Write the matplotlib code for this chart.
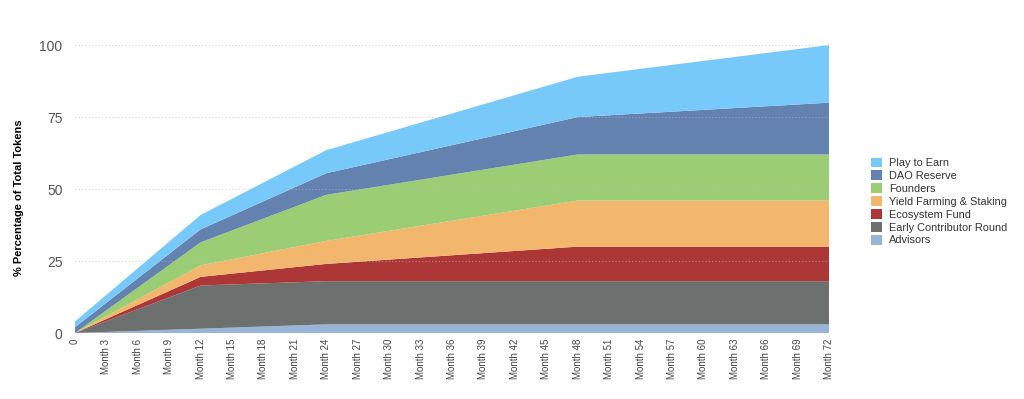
import matplotlib.pyplot as plt
from matplotlib.patches import Patch

plt.rcParams["font.family"] = ["Liberation Sans", "DejaVu Sans"]

# meses donde cambia la pendiente del vesting
meses = [0, 12, 24, 48, 72]

series = ["Advisors", "Early Contributor Round", "Ecosystem Fund",
          "Yield Farming & Staking", "Founders", "DAO Reserve", "Play to Earn"]

advisors = [0, 1.5, 3, 3, 3]
early_contributor = [0, 15, 15, 15, 15]
ecosystem_fund = [0, 3, 6, 12, 12]
yield_farming = [0, 4, 8, 16, 16]
founders = [0, 8, 16, 16, 16]
dao_reserve = [2, 4.5, 7.5, 13, 18]
play_to_earn = [2, 5, 8, 14, 20]

colores = ["#97b5d6", "#6c706f", "#ad3736", "#f2b76c",
           "#9bcd75", "#6482b0", "#76c9f8"]

ticks_x = list(range(0, 73, 3))
etiquetas_x = ["0"] + [f"Month {m}" for m in ticks_x[1:]]

fig = plt.figure(figsize=(10.24, 3.99), dpi=100)
ax = fig.add_axes([0.0732, 0.1654, 0.7364, 0.7216])

ax.stackplot(meses, advisors, early_contributor, ecosystem_fund, yield_farming,
             founders, dao_reserve, play_to_earn, colors=colores, linewidth=0)

ax.set_xlim(0, 72)
ax.set_ylim(0, 100)
ax.set_yticks([0, 25, 50, 75, 100])
ax.set_xticks(ticks_x)
ax.set_xticklabels(etiquetas_x, rotation=90, fontsize=7, color="#444444")
ax.tick_params(axis="y", labelsize=10, colors="#555555", length=0, pad=9)
ax.tick_params(axis="x", length=0, pad=4)
ax.yaxis.grid(True, linestyle=(0, (1, 2)), color="#bbbbbb", linewidth=0.8, alpha=0.6)
ax.set_axisbelow(False)
for s in ax.spines.values():
    s.set_visible(False)

ax.set_ylabel("% Percentage of Total Tokens", fontsize=8, fontweight="bold")
ax.yaxis.set_label_coords(-0.068, 0.47)

# leyenda en orden inverso a la pila
handles = [Patch(facecolor=c, edgecolor="none") for c in colores[::-1]]
leg = fig.legend(handles, series[::-1], loc="center left", bbox_to_anchor=(0.846, 0.495),
                 frameon=False, fontsize=7.9, handlelength=1.05, handleheight=1.0,
                 handletextpad=0.6, labelspacing=0.2, borderaxespad=0)
for t in leg.get_texts():
    t.set_color("#333333")

fig.savefig("out.png", dpi=100)
